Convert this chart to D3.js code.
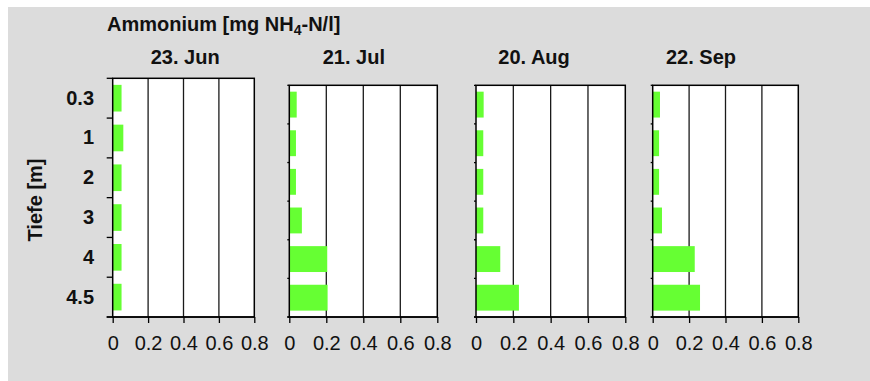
<!DOCTYPE html>
<html>
<head>
<meta charset="utf-8">
<script src="https://cdn.jsdelivr.net/npm/d3@7"></script>
<style>
  body { margin: 0; background: #fff; }
  svg { display: block; }
  text { font-family: "Liberation Sans", Arial, Helvetica, sans-serif; fill: #111; }
</style>
</head>
<body>
<svg id="chart" width="870" height="381"></svg>
<script>
// Sampling depths (m) and sampling dates
const depths = ["0.3", "1", "2", "3", "4", "4.5"];
const dates = ["23. Jun", "21. Jul", "20. Aug", "22. Sep"];

// Ammonium concentration, mg NH4-N/l, per depth
const jun = [0.05, 0.06, 0.05, 0.05, 0.05, 0.05];
const jul = [0.04, 0.036, 0.036, 0.068, 0.205, 0.207];
const aug = [0.041, 0.039, 0.039, 0.039, 0.13, 0.23];
const sep = [0.04, 0.035, 0.035, 0.051, 0.231, 0.26];

const xTicks = [0, 0.2, 0.4, 0.6, 0.8];
const series = [jun, jul, aug, sep];

// Panel layout
const panels = [
  { left: 112.7, right: 254.3, top: 78.3, titleX: 150.7 },
  { left: 289.3, right: 437.3, top: 85.3, titleX: 322.7 },
  { left: 476.0, right: 625.3, top: 85.3, titleX: 498.3 },
  { left: 652.7, right: 798.3, top: 85.3, titleX: 666.0 }
];
const bottom = 317;
const barColor = "#66ff33";

const svg = d3.select("#chart");

// Grey canvas
svg.append("rect")
  .attr("x", 8).attr("y", 7)
  .attr("width", 862).attr("height", 374)
  .attr("fill", "#dcdcdc");

// Main title with subscript
const title = svg.append("text")
  .attr("x", 107).attr("y", 30.7)
  .attr("font-size", 20).attr("font-weight", "bold");
title.append("tspan").text("Ammonium [mg NH");
title.append("tspan").attr("font-size", 14).attr("dy", 4).text("4");
title.append("tspan").attr("dy", -4).text("-N/l]");

// Y axis title
svg.append("text")
  .attr("transform", "translate(42,200) rotate(-90)")
  .attr("text-anchor", "middle")
  .attr("font-size", 20).attr("font-weight", "bold")
  .text("Tiefe [m]");

panels.forEach((p, i) => {
  const x = d3.scaleLinear().domain([0, 0.8]).range([p.left, p.right]);
  const y = d3.scaleBand().domain(depths).range([p.top, bottom])
    .paddingInner(0.33).paddingOuter(0.165);
  const g = svg.append("g");

  // plot area
  g.append("rect")
    .attr("x", x(0)).attr("y", p.top)
    .attr("width", x(0.8) - x(0)).attr("height", bottom - p.top)
    .attr("fill", "#fff");

  // vertical grid lines
  g.selectAll("line.grid")
    .data(xTicks.filter(t => t > 0 && t < 0.8))
    .join("line")
    .attr("class", "grid")
    .attr("x1", d => x(d)).attr("x2", d => x(d))
    .attr("y1", p.top).attr("y2", bottom)
    .attr("stroke", "#1a1a1a").attr("stroke-width", 1.3);

  // bars
  g.selectAll("rect.bar")
    .data(depths.map((d, k) => ({ depth: d, value: series[i][k] })))
    .join("rect")
    .attr("class", "bar")
    .attr("x", x(0))
    .attr("y", d => y(d.depth))
    .attr("width", d => x(d.value) - x(0))
    .attr("height", y.bandwidth())
    .attr("fill", barColor);

  // frame
  g.append("rect")
    .attr("x", x(0)).attr("y", p.top)
    .attr("width", x(0.8) - x(0)).attr("height", bottom - p.top)
    .attr("fill", "none")
    .attr("stroke", "#000").attr("stroke-width", 1.5);

  // y ticks at band boundaries
  const tickLen = i === 0 ? 6 : 2;
  const bounds = d3.range(depths.length + 1).map(k => p.top + k * y.step());
  g.selectAll("line.ytick")
    .data(bounds)
    .join("line")
    .attr("class", "ytick")
    .attr("x1", x(0) - tickLen).attr("x2", x(0))
    .attr("y1", d => d).attr("y2", d => d)
    .attr("stroke", "#000").attr("stroke-width", 1.3);

  // x axis
  const xAxis = d3.axisBottom(x)
    .tickValues(xTicks)
    .tickSize(6)
    .tickPadding(13)
    .tickFormat(d => d === 0 ? "0" : d3.format(".1f")(d));
  const ax = g.append("g")
    .attr("transform", `translate(0,${bottom})`)
    .call(xAxis);
  ax.select(".domain")
    .attr("d", `M${x(0) - tickLen},0H${x(0.8)}`)
    .attr("stroke", "#000").attr("stroke-width", 1.5);
  ax.selectAll(".tick line").attr("stroke", "#000").attr("stroke-width", 1.3);
  ax.selectAll(".tick text")
    .attr("font-size", 20)
    .attr("font-family", "\"Liberation Sans\", Arial, sans-serif")
    .attr("fill", "#111");

  // y labels on first panel only
  if (i === 0) {
    const yAxis = d3.axisLeft(y).tickSize(0).tickPadding(18.7);
    const ay = g.append("g")
      .attr("transform", `translate(${x(0)},0)`)
      .call(yAxis);
    ay.select(".domain").remove();
    ay.selectAll(".tick text")
      .attr("font-size", 20)
      .attr("font-weight", "bold")
      .attr("font-family", "\"Liberation Sans\", Arial, sans-serif")
      .attr("fill", "#111");
  }

  // panel title
  svg.append("text")
    .attr("x", p.titleX).attr("y", 64)
    .attr("font-size", 20).attr("font-weight", "bold")
    .text(dates[i]);
});
</script>
</body>
</html>
